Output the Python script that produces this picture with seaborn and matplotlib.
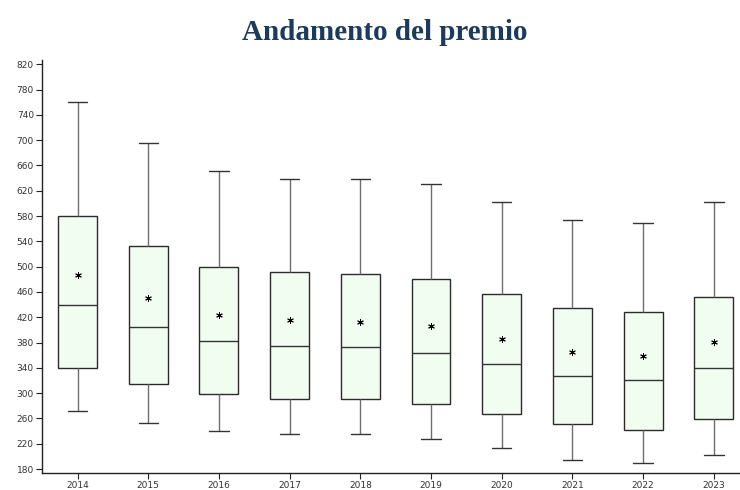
import numpy as np
import pandas as pd
import seaborn as sns
import matplotlib
matplotlib.use("Agg")
import matplotlib.pyplot as plt

#%% data
years = ["2014", "2015", "2016", "2017", "2018", "2019", "2020", "2021", "2022", "2023"]
whisk_lo = [272, 253, 240, 236, 235, 228, 213, 195, 189, 202]
q1 = [340, 315, 299, 291, 291, 283, 267, 251, 242, 259]
median = [440, 405, 382, 375, 373, 364, 346, 327, 321, 339]
q3 = [580, 532, 500, 491, 488, 480, 456, 434, 428, 452]
whisk_hi = [760, 696, 651, 639, 639, 631, 602, 574, 569, 602]
means = [487, 450, 423, 415, 413, 406, 386, 365, 358, 381]

yticks = list(range(180, 821, 40))

#%% long table: 5 points per year -> quartiles land exactly on the values
rows = []
for i, yr in enumerate(years):
    for v in (whisk_lo[i], q1[i], median[i], q3[i], whisk_hi[i]):
        rows.append({"anno": yr, "premio": v})
df = pd.DataFrame(rows)
df_mean = pd.DataFrame({"anno": years, "premio": means})

#%% plot
sns.set_theme(style="white")

fig = plt.figure(figsize=(7.4, 4.9), dpi=100)
ax = fig.add_axes([0.057, 0.035, 0.943, 0.843])

sns.boxplot(data=df, x="anno", y="premio", whis=np.inf, width=0.55,
            color="#f0fff0", linecolor="#2b2b2b", linewidth=1.0, ax=ax,
            whiskerprops={"color": "#6e6e6e"},
            capprops={"color": "#333333"},
            medianprops={"color": "#333333"})

sns.scatterplot(data=df_mean, x="anno", y="premio", marker=(6, 2, 0),
                color="black", s=18, linewidth=0.7, ax=ax, zorder=5)

ax.set_xlim(-0.5, 9.37)
ax.set_ylim(174, 827)
ax.set_yticks(yticks)
ax.set_xlabel("")
ax.set_ylabel("")

sns.despine(ax=ax)
for sp in ["left", "bottom"]:
    ax.spines[sp].set_color("#222222")
    ax.spines[sp].set_linewidth(1.0)

ax.tick_params(axis="both", which="major", length=4, width=0.8, color="#222222",
               labelsize=6.5, labelcolor="#333333", bottom=True, left=True, pad=2)

fig.suptitle("Andamento del premio", x=0.52, y=0.962, fontsize=21, fontweight="bold",
             family="Liberation Serif", color="#1b3a5c", va="top")

fig.savefig("out.png", dpi=100)
